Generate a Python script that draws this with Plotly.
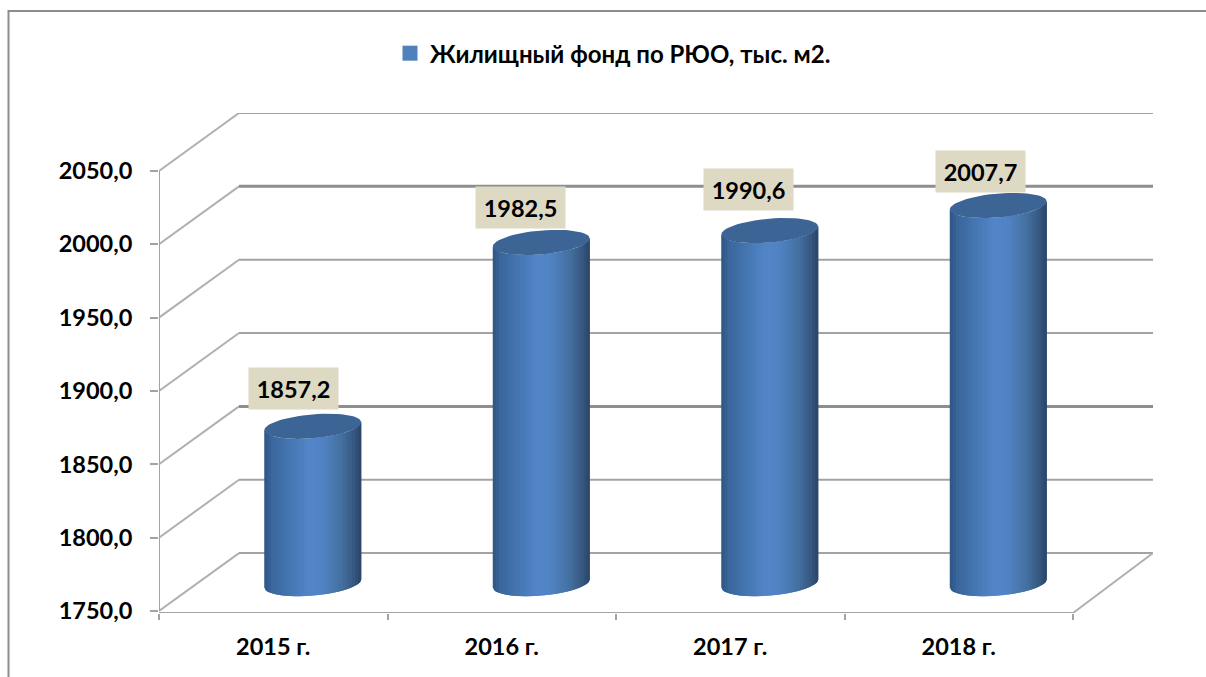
import math
import plotly.graph_objects as go

categories = ["2015 г.", "2016 г.", "2017 г.", "2018 г."]
values = [1857.2, 1982.5, 1990.6, 2007.7]
value_labels = ["1857,2", "1982,5", "1990,6", "2007,7"]
y_ticks = [1750, 1800, 1850, 1900, 1950, 2000, 2050]
y_tick_labels = ["1750,0", "1800,0", "1850,0", "1900,0", "1950,0", "2000,0", "2050,0"]
series_name = "Жилищный фонд по РЮО, тыс. м2."

# --- styling / projection of the pseudo-3D frame (axis units) ---
PX_X = 228.5   # pixels per category
PX_Y = 441 / 300  # pixels per value unit
DEPTH_X = 80 / PX_X
DEPTH_Y = 58 / PX_Y
CYL_X = 39.5 / PX_X
CYL_Y = 27.5 / PX_Y
RAD_X = 48.5 / PX_X
RAD_Y = 12 / PX_Y
TILT_Y = 4 / PX_Y
label_dx = [-19, -21, -21, -18]
label_dy = [37.5, 35, 41, 34]
THICK = {1850, 2000}
FONT = "Lato, 'Noto Sans', sans-serif"
GRID = "#A3A3A3"
STOPS = [(0, "#2E5585"), (.08, "#3A669C"), (.25, "#4475B0"), (.45, "#5285C8"), (.6, "#5183C4"),
         (.8, "#44709F"), (.93, "#35567F"), (1, "#2A4468")]
CAP = "#3C6595"
N = 32


def mix(t):
    for (a, ca), (b, cb) in zip(STOPS, STOPS[1:]):
        if t <= b:
            f = (t - a) / (b - a)
            rgb = [round(int(ca[i:i + 2], 16) * (1 - f) + int(cb[i:i + 2], 16) * f) for i in (1, 3, 5)]
            return "rgb(%d,%d,%d)" % tuple(rgb)
    return STOPS[-1][1]


def lower(u):
    return -RAD_Y * math.sqrt(max(0, 1 - u * u)) + TILT_Y * u


fig = go.Figure()


def line(xs, ys, color=GRID, width=2):
    fig.add_trace(go.Scatter(x=xs, y=ys, mode="lines", line=dict(color=color, width=width),
                             hoverinfo="skip", showlegend=False, cliponaxis=False))


xmax = len(categories)
ymin, ymax = y_ticks[0], y_ticks[-1]
for t in y_ticks:
    thick = t in THICK
    line([0, DEPTH_X], [t, t + DEPTH_Y], "#B0B0B0", 2)
    line([DEPTH_X, xmax + DEPTH_X], [t + DEPTH_Y, t + DEPTH_Y],
         "#8E8E8E" if thick else GRID, 3 if thick else 2)
line([0, 0], [ymin, ymax])
base = ymin - 2 / PX_Y
line([0, xmax], [base, base])
line([xmax, xmax + DEPTH_X], [base, ymin + DEPTH_Y], "#B0B0B0", 2)

# cylinder side, one colour band at a time
for k in range(N):
    u0 = -1 + 2 * k / N
    u1 = min(-1 + 2 * (k + 2) / N, 1)
    xs, ys = [], []
    for i, v in enumerate(values):
        cx = i + 0.5 + CYL_X
        y0 = ymin + CYL_Y
        y1 = v + CYL_Y
        us = [u0 + (u1 - u0) * j / 4 for j in range(5)]
        xs += [cx + RAD_X * u for u in us] + [cx + RAD_X * u1, cx + RAD_X * u0, cx + RAD_X * u0, None]
        ys += [y0 + lower(u) for u in us] + [y1 + lower(u1), y1 + lower(u0), y0 + lower(u0), None]
    fig.add_trace(go.Scatter(x=xs, y=ys, mode="lines", fill="toself", fillcolor=mix((k + 0.5) / N),
                             line=dict(width=0), hoverinfo="skip", showlegend=False, cliponaxis=False))

# cylinder caps
xs, ys = [], []
for i, v in enumerate(values):
    cx = i + 0.5 + CYL_X
    cy = v + CYL_Y
    for a in range(0, 361, 6):
        u = math.cos(math.radians(a))
        xs.append(cx + RAD_X * u)
        ys.append(cy + RAD_Y * math.sin(math.radians(a)) + TILT_Y * u)
    xs.append(None)
    ys.append(None)
fig.add_trace(go.Scatter(x=xs, y=ys, mode="lines", fill="toself", fillcolor=CAP, line=dict(width=0),
                         hoverinfo="skip", showlegend=False, cliponaxis=False))

# legend entry
fig.add_trace(go.Scatter(x=[None], y=[None], mode="markers", name="<b>%s</b>" % series_name,
                         marker=dict(symbol="square", size=15, color="#4F81BD")))

for i, v in enumerate(values):
    fig.add_annotation(x=i + 0.5 + CYL_X, y=v + CYL_Y, xref="x", yref="y", text="<b>%s</b>" % value_labels[i],
                       showarrow=False, xshift=label_dx[i], yshift=label_dy[i], width=87, height=39,
                       bgcolor="#DDD9C3", font=dict(family=FONT, size=23.5, color="#000"), align="center", valign="middle")

L, T, W = 159, 113, 994
H = 500.5
fig.update_layout(
    width=1206, height=677, margin=dict(l=L, t=T, r=1206 - L - W, b=677 - T - H, pad=0),
    paper_bgcolor="white", plot_bgcolor="white", showlegend=True,
    font=dict(family=FONT, size=23.5, color="#000"),
    legend=dict(x=(390 - L) / W, y=1 + (T - 31) / H, xanchor="left", yanchor="top", bgcolor="rgba(0,0,0,0)",
                font=dict(family=FONT, size=24), itemwidth=30, tracegroupgap=0),
    xaxis=dict(range=[0, xmax + DEPTH_X], tickmode="array", tickvals=[i + 0.5 for i in range(xmax)],
               ticktext=["<b>%s</b>" % c for c in categories], ticks="", showgrid=False, zeroline=False,
               showline=False, ticklabelstandoff=17, fixedrange=True,
               minor=dict(tickmode="array", tickvals=list(range(xmax + 1)), ticks="outside", ticklen=6,
                          tickcolor=GRID, tickwidth=2, showgrid=False)),
    yaxis=dict(range=[ymin - 2 / PX_Y, ymax + DEPTH_Y], tickmode="array", tickvals=y_ticks,
               ticktext=["<b>%s</b>" % s for s in y_tick_labels], ticks="outside", ticklen=8, tickcolor=GRID,
               tickwidth=2, showgrid=False, zeroline=False, showline=False, ticklabelstandoff=13, fixedrange=True),
    shapes=[dict(type="rect", xref="paper", yref="paper", x0=(8.5 - L) / W, x1=(1230 - L) / W,
                 y0=-(700 - T - H) / H, y1=1 + (T - 11) / H, line=dict(color="#8C8C8C", width=2),
                 fillcolor="rgba(0,0,0,0)", layer="below")],
)
fig.write_html("out.html", config={"displayModeBar": False},
               post_script="document.body.style.margin='0';")
